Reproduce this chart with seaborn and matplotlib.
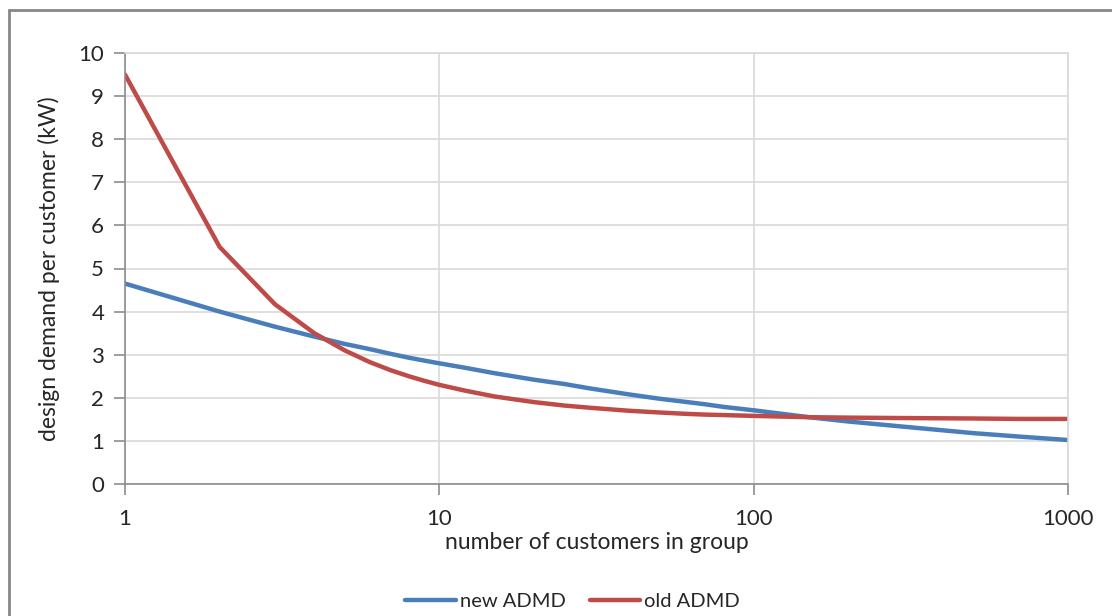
import matplotlib
matplotlib.use("Agg")
import matplotlib.pyplot as plt
from matplotlib.lines import Line2D
import seaborn as sns
import pandas as pd

# number of customers in group
customers = [1, 2, 3, 4, 5, 6, 7, 8, 9, 10, 12, 15, 20, 25, 30, 40, 50, 60,
             70, 80, 100, 150, 200, 300, 500, 700, 1000]
# design demand per customer (kW)
new_admd = [4.65, 4.00, 3.65, 3.42, 3.25, 3.13, 3.02, 2.93, 2.86, 2.80, 2.70,
            2.57, 2.42, 2.32, 2.22, 2.08, 1.98, 1.91, 1.85, 1.79, 1.71, 1.55,
            1.45, 1.33, 1.18, 1.10, 1.02]
old_admd = [9.50, 5.50, 4.17, 3.50, 3.10, 2.83, 2.64, 2.50, 2.39, 2.30, 2.17,
            2.03, 1.90, 1.82, 1.77, 1.70, 1.66, 1.63, 1.61, 1.60, 1.58, 1.55,
            1.54, 1.53, 1.52, 1.51, 1.51]

y_ticks = [0, 1, 2, 3, 4, 5, 6, 7, 8, 9, 10]
x_ticks = [1, 10, 100, 1000]
x_labels = ['1', '10', '100', '1000']

df = pd.DataFrame({'customers': customers * 2,
                   'kW': new_admd + old_admd,
                   'series': ['new ADMD'] * len(customers) + ['old ADMD'] * len(customers)})

sns.set_style("white")
plt.rcParams['font.family'] = ['Lato', 'DejaVu Sans']
txt = '#262626'

fig = plt.figure(figsize=(11.12, 6.16), dpi=100)
ax = fig.add_axes([125 / 1112, 1 - 484 / 616, (1068 - 125) / 1112, (484 - 53) / 616])

sns.lineplot(data=df, x='customers', y='kW', hue='series', ax=ax,
             palette={'new ADMD': '#4A7EBB', 'old ADMD': '#BE4B48'},
             linewidth=3.2, legend=False)

ax.set_xscale('log')
ax.set_xlim(1, 1000)
ax.set_ylim(0, 10)
ax.set_yticks(y_ticks)
ax.set_yticklabels([str(v) for v in y_ticks])
ax.set_xticks(x_ticks)
ax.set_xticklabels(x_labels)
ax.minorticks_off()

ax.grid(True, color='#D9D9D9', linewidth=1.2)
ax.set_axisbelow(True)
for side in ['top', 'right']:
    ax.spines[side].set_color('#D9D9D9')
    ax.spines[side].set_linewidth(1.2)
for side in ['left', 'bottom']:
    ax.spines[side].set_color('#8C8C8C')
    ax.spines[side].set_linewidth(1.2)

ax.tick_params(axis='y', direction='out', length=8, width=1.2, color='#8C8C8C',
               labelsize=16, labelcolor=txt, pad=7, left=True)
ax.tick_params(axis='x', direction='out', length=8, width=1.2, color='#8C8C8C',
               labelsize=16, labelcolor=txt, pad=10, bottom=True)

ax.set_xlabel('number of customers in group', fontsize=16.5, color=txt, labelpad=2)
ax.set_ylabel('design demand per customer (kW)', fontsize=16.5, color=txt, labelpad=13)

handles = [Line2D([0], [0], color='#4A7EBB', lw=3.2),
           Line2D([0], [0], color='#BE4B48', lw=3.2)]
fig.legend(handles, ['new ADMD', 'old ADMD'], loc='center', ncol=2,
           bbox_to_anchor=(0.515, 1 - 601 / 616), frameon=False,
           fontsize=14.5, handlelength=2.5, handletextpad=0.2, columnspacing=1.2,
           labelcolor=txt)

# chart-area frame (top and left edges are visible in the crop)
fig.add_artist(Line2D([9 / 1112, 9 / 1112], [0, 1 - 10 / 616],
                      transform=fig.transFigure, color='#878787', lw=2))
fig.add_artist(Line2D([9 / 1112, 1], [1 - 10 / 616, 1 - 10 / 616],
                      transform=fig.transFigure, color='#878787', lw=2))

fig.savefig('out.png', dpi=100, facecolor='white')
